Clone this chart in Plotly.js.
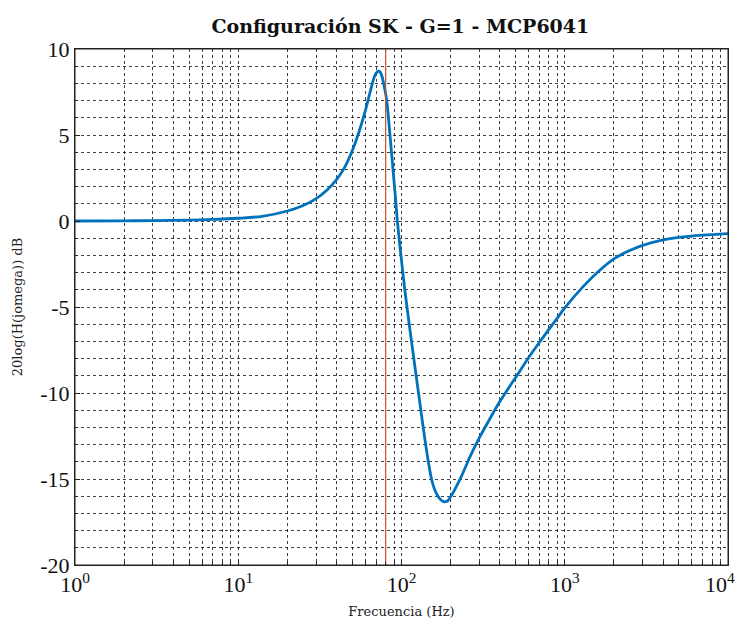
<!DOCTYPE html>
<html>
<head>
<meta charset="utf-8">
<script src="https://cdn.plot.ly/plotly-3.0.1.min.js"></script>
<style>html,body{margin:0;padding:0;background:#fff;overflow:hidden;width:740px;height:619px;}#chart{width:740px;height:619px;overflow:hidden;}</style>
</head>
<body>
<div id="chart"></div>
<script>
// Frequency response (Hz, dB)
const freqHz = [1, 2, 3, 5, 7, 10, 14, 20, 25, 30, 35, 40, 45, 50, 55, 60, 65, 68, 70, 72, 74, 76, 79, 81.2, 85, 88.7, 92.5, 94.3, 99.2, 104.8, 111.5, 119, 127.1, 135.8, 146, 152.7, 159.3, 167.3, 174.6, 182.1, 191.3, 199.6, 230, 263, 300, 350, 400, 450, 500, 600, 700, 800, 900, 1000, 1300, 1600, 2000, 2500, 3000, 4000, 5000, 7000, 10000];
const gainDb = [0.0, 0.01, 0.02, 0.05, 0.09, 0.16, 0.27, 0.58, 0.9, 1.3, 1.8, 2.4, 3.15, 4.1, 5.2, 6.4, 7.7, 8.35, 8.6, 8.72, 8.66, 8.4, 7.65, 7.0, 5.0, 3.0, 1.0, 0.0, -2.0, -4.0, -6.0, -8.0, -10.0, -12.0, -14.0, -15.0, -15.6, -16.0, -16.22, -16.33, -16.28, -16.05, -14.95, -13.7, -12.6, -11.45, -10.5, -9.75, -9.1, -7.95, -7.05, -6.3, -5.65, -5.05, -3.8, -2.95, -2.2, -1.72, -1.42, -1.1, -0.95, -0.82, -0.73];
// Vertical marker frequency (Hz)
const markerFreq = [80];
const yLimits = [-20, 10];

// Tick labels
const xDecades = [1, 10, 100, 1000, 10000];
const xDecadeLabels = ['10<sup>0</sup>', '10<sup>1</sup>', '10<sup>2</sup>', '10<sup>3</sup>', '10<sup>4</sup>&nbsp;&nbsp;&nbsp;'];
const yMajor = [-20, -15, -10, -5, 0, 5, 10];
const yMajorLabels = ['-20', '-15', '-10', '-5', '0', '5', '10'];

// minor grid positions: 2..9 x each decade, every 1 dB
const xMinor = [];
for (let d = 0; d < 4; d++) {
  for (let m = 2; m <= 9; m++) xMinor.push(m * Math.pow(10, d));
}
const yMinor = [];
for (let v = yLimits[0]; v <= yLimits[1]; v++) if (yMajor.indexOf(v) < 0) yMinor.push(v);

const serif = '"Liberation Serif", "DejaVu Serif", serif';
const serif2 = '"DejaVu Serif", "Liberation Serif", serif';
const gridStyle = {showgrid: true, gridcolor: 'rgba(0,0,0,0.75)', griddash: 'dot', gridwidth: 1};

const traces = [
  {
    x: freqHz, y: gainDb, type: 'scatter', mode: 'lines',
    line: {color: '#0072BD', width: 2.8, shape: 'spline', smoothing: 0.8},
    hoverinfo: 'skip', showlegend: false
  },
  {
    x: [markerFreq[0], markerFreq[0]], y: yLimits, type: 'scatter', mode: 'lines',
    line: {color: '#C8552B', width: 1.2},
    hoverinfo: 'skip', showlegend: false
  }
];

const layout = {
  width: 740, height: 619,
  margin: {l: 75, r: 12, t: 49, b: 54},
  paper_bgcolor: '#fff', plot_bgcolor: '#fff',
  title: {
    text: '<b>Configuración SK - G=1 - MCP6041</b>',
    font: {family: serif2, size: 19, color: '#111'},
    x: 0.541, xanchor: 'center', y: 0.958, yanchor: 'middle'
  },
  xaxis: Object.assign({
    type: 'log', range: [0, 4],
    tickmode: 'array', tickvals: xDecades, ticktext: xDecadeLabels,
    tickangle: 0, ticklabeloverflow: 'allow',
    minor: Object.assign({tickmode: 'array', tickvals: xMinor, ticks: 'inside', ticklen: 3, tickcolor: '#222'}, gridStyle),
    showline: true, linecolor: '#222', linewidth: 1, mirror: true,
    ticks: 'inside', ticklen: 5, tickcolor: '#222',
    zeroline: false,
    tickfont: {family: serif, size: 22, color: '#111'},
    title: {text: 'Frecuencia (Hz)', font: {family: serif2, size: 13, color: '#222'}, standoff: 10}
  }, gridStyle),
  yaxis: Object.assign({
    range: yLimits,
    tickmode: 'array', tickvals: yMajor, ticktext: yMajorLabels,
    tickangle: 0, ticklabeloverflow: 'allow',
    minor: Object.assign({tickmode: 'array', tickvals: yMinor, ticks: 'inside', ticklen: 3, tickcolor: '#222'}, gridStyle),
    showline: true, linecolor: '#222', linewidth: 1, mirror: true,
    ticks: 'inside', ticklen: 5, tickcolor: '#222',
    zeroline: false,
    tickfont: {family: serif, size: 22, color: '#111'},
    title: {text: '20log(H(jomega)) dB', font: {family: serif2, size: 13, color: '#222'}, standoff: 14}
  }, gridStyle),
  shapes: [
    {type: 'rect', xref: 'paper', yref: 'paper', x0: 0, x1: 1, y0: 0, y1: 1,
     line: {color: '#222', width: 1}, fillcolor: 'rgba(0,0,0,0)', layer: 'above'}
  ]
};

Plotly.newPlot('chart', traces, layout, {displayModeBar: false, staticPlot: true});
</script>
</body>
</html>
